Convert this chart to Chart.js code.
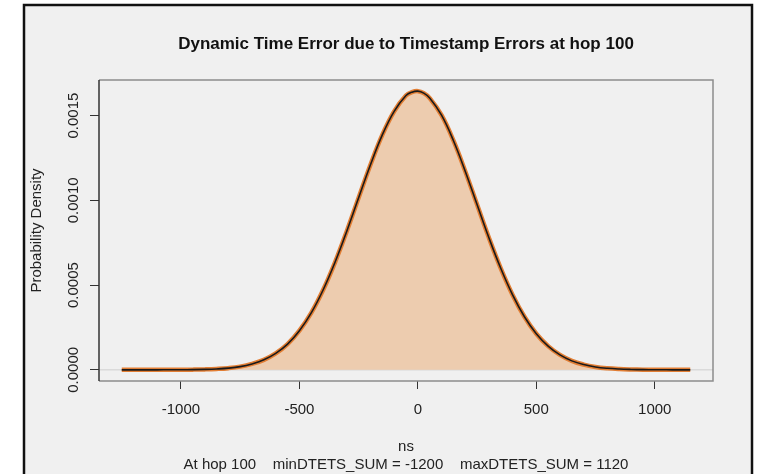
<!DOCTYPE html>
<html>
<head>
<meta charset="utf-8">
<script src="https://cdn.jsdelivr.net/npm/chart.js@4.4.0/dist/chart.umd.min.js"></script>
<style>
  html, body { margin: 0; padding: 0; background: #ffffff; }
  #wrap { width: 759px; height: 474px; position: relative; }
</style>
</head>
<body>
<div id="wrap"><canvas id="c" width="759" height="474"></canvas></div>
<script>
// ---- data ----
const chartTitle = "Dynamic Time Error due to Timestamp Errors at hop 100";
const xAxisTitle = "ns";
const subTitle = "At hop 100    minDTETS_SUM = -1200    maxDTETS_SUM = 1120";
const yAxisTitle = "Probability Density";

const nsValues = [-1250,-1200,-1150,-1100,-1050,-1000,-950,-900,-850,-800,-750,-700,-650,-600,-550,-500,-450,-400,-350,-300,-250,-200,-150,-100,-50,-25,0,25,50,100,150,200,250,300,350,400,450,500,550,600,650,700,750,800,850,900,950,1000,1050,1100,1150];
const densityValues = [0,0,0,0.0000001,0.0000003,0.0000006,0.0000013,0.0000027,0.0000053,0.000010,0.000019,0.000035,0.000059,0.000097,0.000152,0.000231,0.000336,0.000471,0.000633,0.000818,0.001015,0.001210,0.001386,0.001525,0.001618,0.001638,0.001644,0.001632,0.001603,0.001502,0.001353,0.001172,0.000975,0.000779,0.000599,0.000442,0.000313,0.000213,0.000140,0.000088,0.000053,0.000031,0.000017,0.000009,0.0000046,0.0000023,0.0000011,0.0000005,0.0000002,0.0000001,0];

const xTickValues = [-1000, -500, 0, 500, 1000];
const yTickValues = [0, 0.0005, 0.0010, 0.0015];
const yTickLabels = ["0.0000", "0.0005", "0.0010", "0.0015"];

// R-style 4% axis padding
const xMinData = Math.min(...nsValues), xMaxData = Math.max(...nsValues);
const xPad = 0.04 * (xMaxData - xMinData);
const yMaxData = Math.max(...densityValues);
const yPad = 0.04 * yMaxData;

const points = nsValues.map((x, i) => ({ x: x, y: densityValues[i] }));
const baseline = [{ x: xMinData - xPad, y: 0 }, { x: xMaxData + xPad, y: 0 }];

const FONT = "'Liberation Sans', Arial, sans-serif";

const framePlugin = {
  id: 'frame',
  beforeDraw(chart) {
    const ctx = chart.ctx;
    ctx.save();
    ctx.fillStyle = '#ffffff';
    ctx.fillRect(0, 0, chart.width, chart.height);
    ctx.fillStyle = '#f0f0f0';
    ctx.fillRect(24, 5, 728, 480);
    ctx.strokeStyle = '#111111';
    ctx.lineWidth = 2.5;
    ctx.strokeRect(24, 5, 728, 480);
    ctx.restore();
  },
  afterDraw(chart) {
    const ctx = chart.ctx;
    const a = chart.chartArea;
    ctx.save();
    // box
    ctx.strokeStyle = '#8c8c8c';
    ctx.lineWidth = 1.5;
    ctx.beginPath();
    ctx.moveTo(a.left, a.top); ctx.lineTo(a.right, a.top);
    ctx.lineTo(a.right, a.bottom); ctx.lineTo(a.left, a.bottom);
    ctx.stroke();
    ctx.strokeStyle = '#333333';
    ctx.beginPath();
    ctx.moveTo(a.left, a.top); ctx.lineTo(a.left, a.bottom);
    ctx.stroke();
    // y tick labels (rotated)
    const ys = chart.scales.y;
    ctx.fillStyle = '#222222';
    ctx.font = '15px ' + FONT;
    ctx.textAlign = 'center';
    ctx.textBaseline = 'middle';
    yTickValues.forEach((v, i) => {
      const py = ys.getPixelForValue(v);
      ctx.save();
      ctx.translate(74, py);
      ctx.rotate(-Math.PI / 2);
      ctx.fillText(yTickLabels[i], 0, 0);
      ctx.restore();
    });
    // y axis title
    ctx.save();
    ctx.translate(37, (a.top + a.bottom) / 2);
    ctx.rotate(-Math.PI / 2);
    ctx.fillText(yAxisTitle, 0, 0);
    ctx.restore();
    // title
    ctx.font = 'bold 17px ' + FONT;
    ctx.fillStyle = '#111111';
    ctx.fillText(chartTitle, (a.left + a.right) / 2, 44);
    // x title and subtitle
    ctx.font = '15px ' + FONT;
    ctx.fillStyle = '#222222';
    ctx.fillText(xAxisTitle, (a.left + a.right) / 2, 447);
    ctx.fillText(subTitle, (a.left + a.right) / 2, 465);
    ctx.restore();
  }
};

new Chart(document.getElementById('c'), {
  type: 'line',
  data: {
    datasets: [
      { data: points, borderColor: '#1a1a1a', borderWidth: 1.6, pointRadius: 0, tension: 0.4, fill: false, order: 0 },
      { data: points, borderColor: 'rgb(226,126,52)', borderWidth: 4.5, pointRadius: 0, tension: 0.4,
        fill: 'origin', backgroundColor: 'rgb(237,204,175)', order: 1 },
      { data: baseline, borderColor: '#cfcfcf', borderWidth: 1, pointRadius: 0, fill: false, order: 2 }
    ]
  },
  options: {
    responsive: false,
    animation: false,
    devicePixelRatio: 1,
    layout: { padding: { left: 24, top: 80, right: 46, bottom: 0 } },
    plugins: { legend: { display: false }, tooltip: { enabled: false }, title: { display: false } },
    scales: {
      x: {
        type: 'linear',
        min: xMinData - xPad,
        max: xMaxData + xPad,
        afterBuildTicks: s => { s.ticks = xTickValues.map(v => ({ value: v })); },
        afterFit: s => { s.height = 93; },
        grid: { drawOnChartArea: false, drawTicks: true, tickLength: 8, color: '#333333', lineWidth: 1 },
        border: { display: false },
        ticks: { color: '#222222', font: { family: FONT, size: 15 }, padding: 12, maxRotation: 0, minRotation: 0,
                 callback: v => String(v) }
      },
      y: {
        type: 'linear',
        min: -yPad,
        max: yMaxData + yPad,
        afterBuildTicks: s => { s.ticks = yTickValues.map(v => ({ value: v })); },
        afterFit: s => { s.width = 75; },
        grid: { drawOnChartArea: false, drawTicks: true, tickLength: 9, color: '#333333', lineWidth: 1 },
        border: { display: false },
        ticks: { color: 'rgba(0,0,0,0)', font: { family: FONT, size: 15 } }
      }
    }
  },
  plugins: [framePlugin]
});
</script>
</body>
</html>
